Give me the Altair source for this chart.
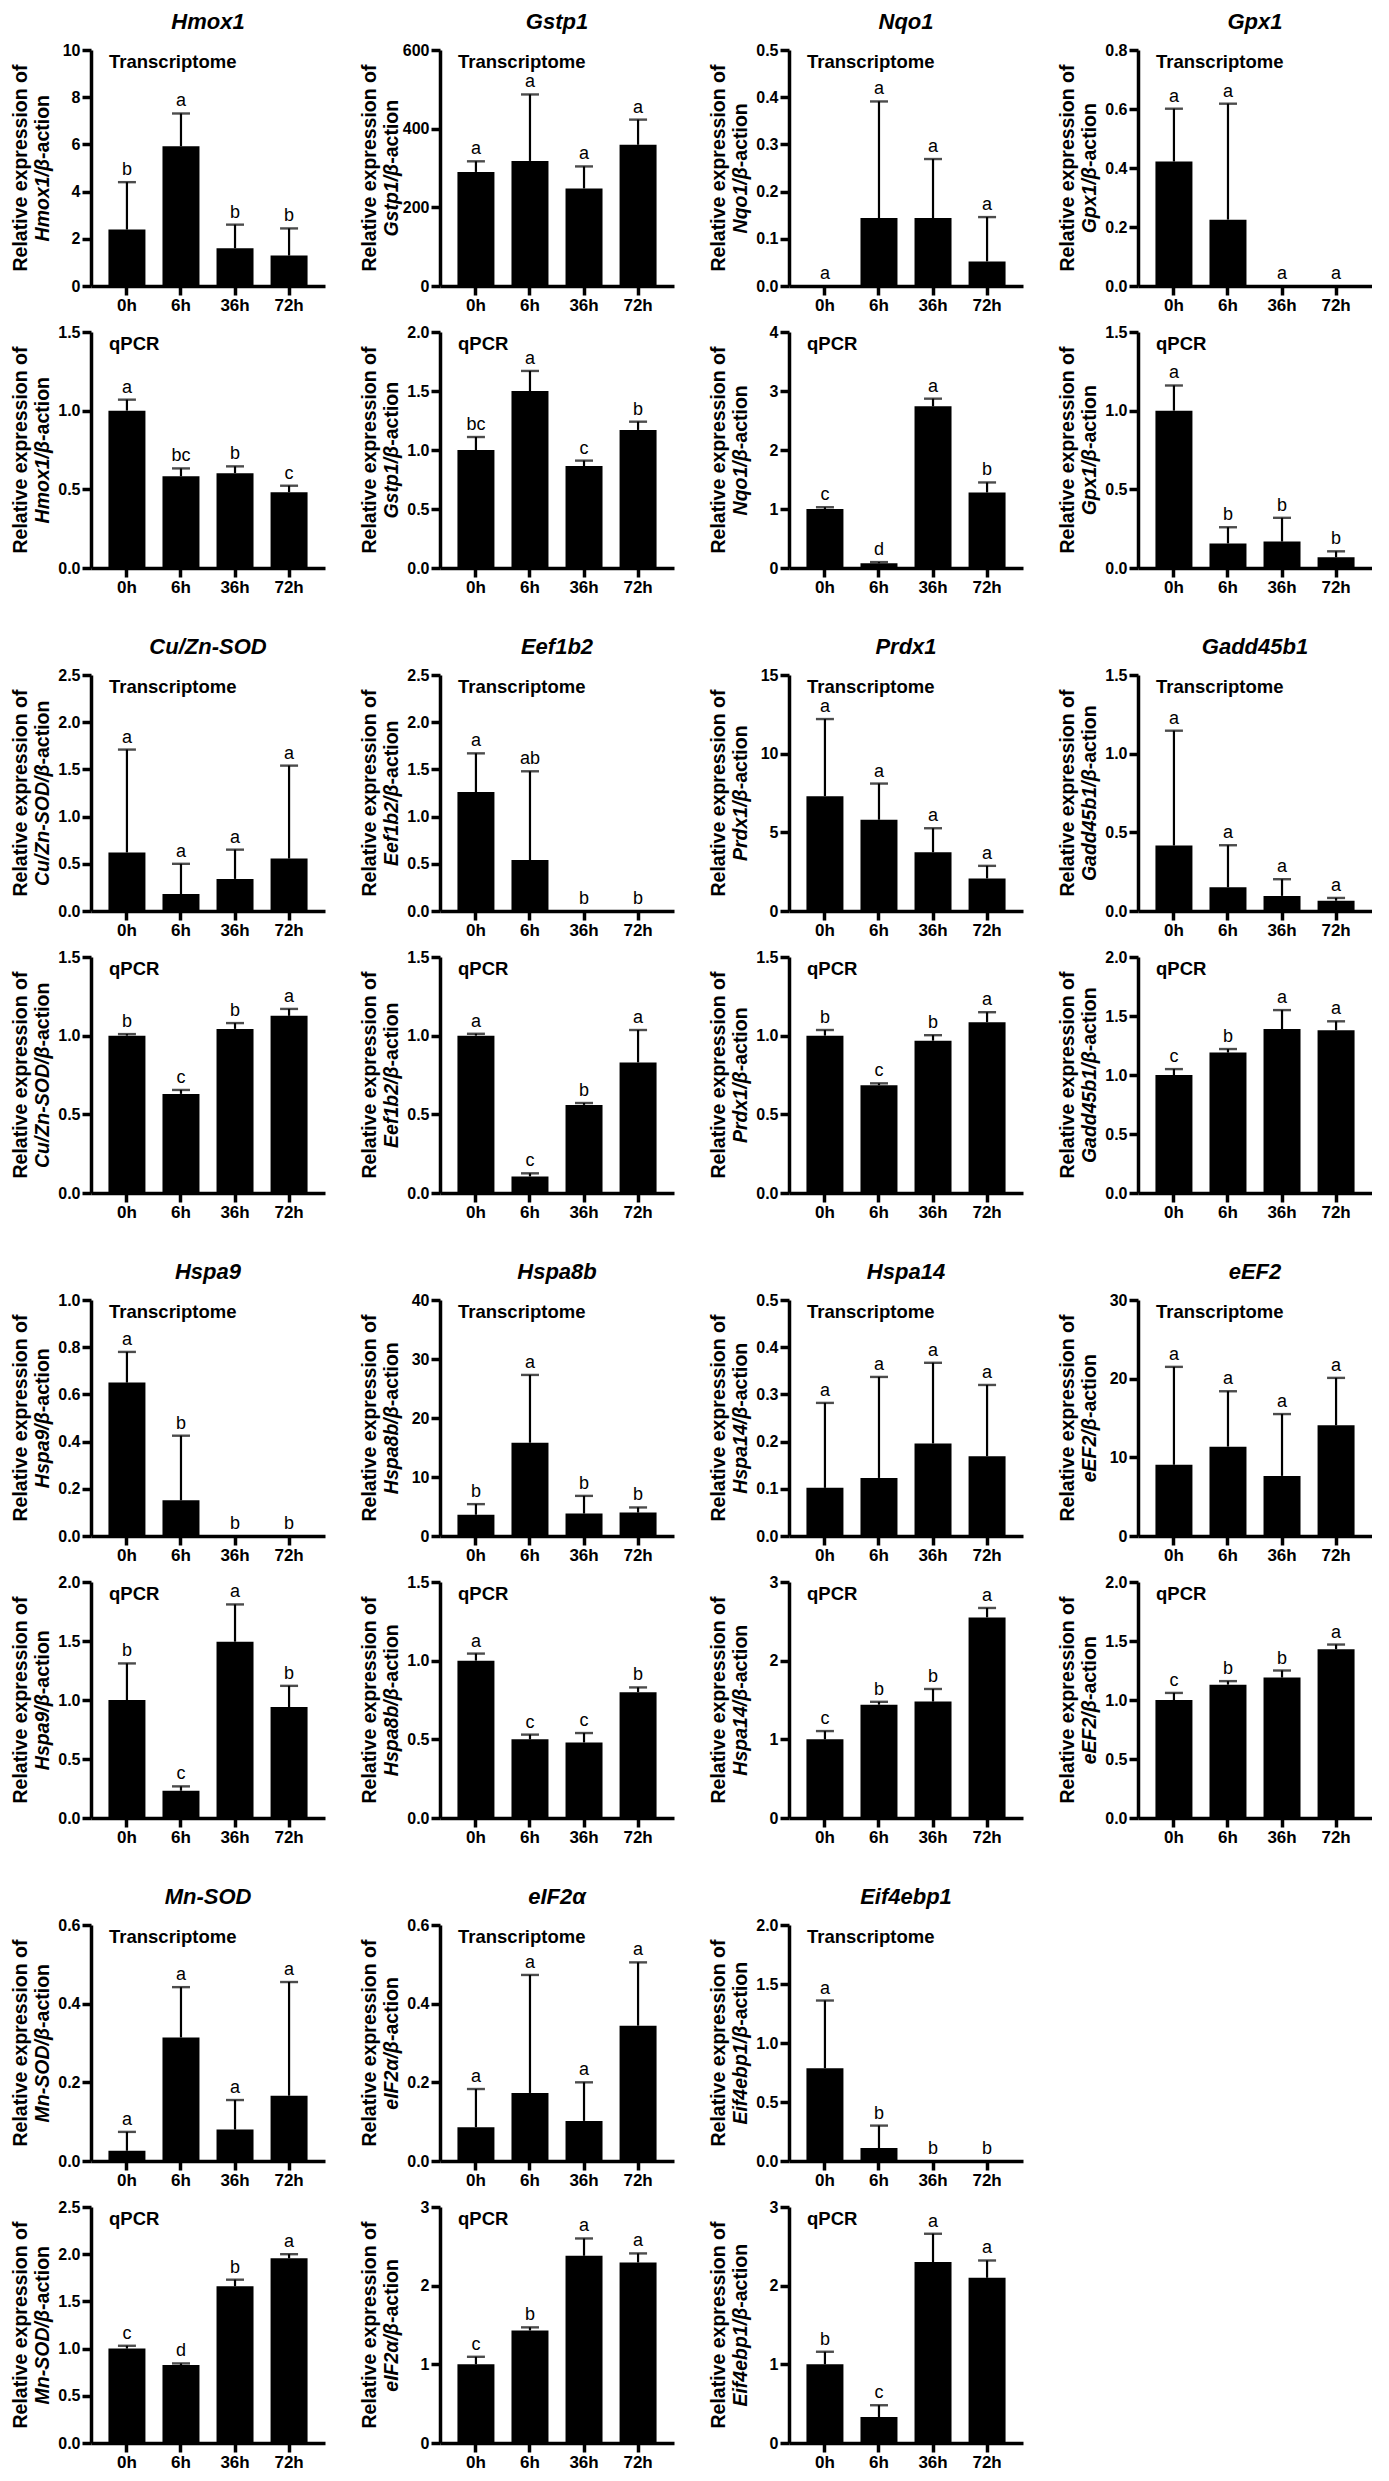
import altair as alt
import pandas as pd
import numpy as np

times = ["0h", "6h", "36h", "72h"]
genes = ["Hmox1", "Gstp1", "Nqo1", "Gpx1",
         "Cu/Zn-SOD", "Eef1b2", "Prdx1", "Gadd45b1",
         "Hspa9", "Hspa8b", "Hspa14", "eEF2",
         "Mn-SOD", "eIF2α", "Eif4ebp1"]

# ---- Transcriptome panels ----
trans_mean = [
    [2.39, 5.92, 1.60, 1.29],
    [290, 318, 248, 359],
    [0.0, 0.144, 0.144, 0.052],
    [0.422, 0.225, 0.0, 0.0],
    [0.62, 0.18, 0.34, 0.555],
    [1.26, 0.54, 0.0, 0.0],
    [7.3, 5.8, 3.73, 2.07],
    [0.416, 0.151, 0.096, 0.065],
    [0.65, 0.151, 0.0, 0.0],
    [3.6, 15.8, 3.8, 3.97],
    [0.102, 0.123, 0.196, 0.169],
    [9.05, 11.36, 7.64, 14.07],
    [0.026, 0.314, 0.08, 0.166],
    [0.086, 0.173, 0.102, 0.344],
    [0.786, 0.11, 0.0, 0.0],
]
trans_err_top = [
    [4.4, 7.31, 2.6, 2.44],
    [317, 487, 304, 423],
    [0.0, 0.391, 0.269, 0.146],
    [0.601, 0.618, 0.0, 0.0],
    [1.71, 0.50, 0.65, 1.54],
    [1.67, 1.48, 0.0, 0.0],
    [12.2, 8.1, 5.26, 2.87],
    [1.146, 0.418, 0.202, 0.083],
    [0.78, 0.425, 0.0, 0.0],
    [5.4, 27.3, 6.8, 4.84],
    [0.282, 0.337, 0.367, 0.32],
    [21.5, 18.4, 15.5, 20.1],
    [0.074, 0.442, 0.155, 0.455],
    [0.183, 0.473, 0.2, 0.505],
    [1.36, 0.30, 0.0, 0.0],
]
trans_sig = [
    ["b", "a", "b", "b"], ["a", "a", "a", "a"], ["a", "a", "a", "a"], ["a", "a", "a", "a"],
    ["a", "a", "a", "a"], ["a", "ab", "b", "b"], ["a", "a", "a", "a"], ["a", "a", "a", "a"],
    ["a", "b", "b", "b"], ["b", "a", "b", "b"], ["a", "a", "a", "a"], ["a", "a", "a", "a"],
    ["a", "a", "a", "a"], ["a", "a", "a", "a"], ["a", "b", "b", "b"],
]
trans_ymax = [10, 600, 0.5, 0.8, 2.5, 2.5, 15, 1.5, 1.0, 40, 0.5, 30, 0.6, 0.6, 2.0]
trans_ystep = [2, 200, 0.1, 0.2, 0.5, 0.5, 5, 0.5, 0.2, 10, 0.1, 10, 0.2, 0.2, 0.5]

# ---- qPCR panels ----
qpcr_mean = [
    [1.0, 0.583, 0.603, 0.482],
    [1.0, 1.50, 0.864, 1.17],
    [1.0, 0.08, 2.74, 1.28],
    [1.0, 0.156, 0.168, 0.068],
    [1.0, 0.63, 1.043, 1.126],
    [1.0, 0.105, 0.56, 0.83],
    [1.0, 0.685, 0.968, 1.086],
    [1.0, 1.19, 1.39, 1.38],
    [1.0, 0.231, 1.494, 0.94],
    [1.0, 0.50, 0.48, 0.80],
    [1.0, 1.44, 1.48, 2.55],
    [1.0, 1.13, 1.19, 1.43],
    [1.0, 0.826, 1.66, 1.956],
    [1.0, 1.43, 2.38, 2.295],
    [1.0, 0.33, 2.30, 2.10],
]
qpcr_err_top = [
    [1.07, 0.633, 0.646, 0.523],
    [1.11, 1.67, 0.91, 1.24],
    [1.03, 0.10, 2.87, 1.45],
    [1.16, 0.259, 0.319, 0.106],
    [1.01, 0.655, 1.08, 1.17],
    [1.012, 0.125, 0.572, 1.036],
    [1.036, 0.697, 1.003, 1.149],
    [1.05, 1.22, 1.55, 1.455],
    [1.31, 0.268, 1.81, 1.12],
    [1.045, 0.53, 0.54, 0.83],
    [1.105, 1.477, 1.64, 2.67],
    [1.06, 1.16, 1.25, 1.47],
    [1.03, 0.843, 1.73, 2.0],
    [1.096, 1.47, 2.6, 2.41],
    [1.16, 0.48, 2.66, 2.32],
]
qpcr_sig = [
    ["a", "bc", "b", "c"], ["bc", "a", "c", "b"], ["c", "d", "a", "b"], ["a", "b", "b", "b"],
    ["b", "c", "b", "a"], ["a", "c", "b", "a"], ["b", "c", "b", "a"], ["c", "b", "a", "a"],
    ["b", "c", "a", "b"], ["a", "c", "c", "b"], ["c", "b", "b", "a"], ["c", "b", "b", "a"],
    ["c", "d", "b", "a"], ["c", "b", "a", "a"], ["b", "c", "a", "a"],
]
qpcr_ymax = [1.5, 2.0, 4, 1.5, 1.5, 1.5, 1.5, 2.0, 2.0, 1.5, 3, 2.0, 2.5, 3, 3]
qpcr_ystep = [0.5, 0.5, 1, 0.5, 0.5, 0.5, 0.5, 0.5, 0.5, 0.5, 1, 0.5, 0.5, 1, 1]

FONT = "Liberation Sans"
W, H = 234, 236
YT_FS = 19.5

# approximate Arial-bold glyph widths (em) for centring the split y-title line
CW = {' ': .278, '-': .333, '/': .278, 'a': .556, 'b': .611, 'c': .556, 'd': .611,
      'e': .556, 'f': .333, 'g': .611, 'h': .611, 'i': .278, 'l': .278, 'm': .889,
      'n': .611, 'o': .611, 'p': .611, 'r': .389, 's': .556, 't': .333, 'x': .556,
      'C': .722, 'D': .722, 'E': .667, 'F': .611, 'G': .778, 'H': .722, 'I': .278,
      'M': .833, 'N': .722, 'O': .778, 'P': .667, 'S': .667, 'Z': .611,
      'β': .6, 'α': .6}
for d in "0123456789":
    CW[d] = .556


def tw(s, fs):
    return sum(CW.get(c, .6) for c in s) * fs


def panel(i, kind):
    if kind == "t":
        mean, top, sig = trans_mean[i], trans_err_top[i], trans_sig[i]
        ymax, step, label = trans_ymax[i], trans_ystep[i], "Transcriptome"
    else:
        mean, top, sig = qpcr_mean[i], qpcr_err_top[i], qpcr_sig[i]
        ymax, step, label = qpcr_ymax[i], qpcr_ystep[i], "qPCR"
    df = pd.DataFrame({"time": times, "mean": mean, "top": top, "sig": sig})
    ticks = [float(v) for v in np.round(np.arange(0, ymax + step / 2, step), 6)]
    fmt = "d" if float(step).is_integer() else ".1f"

    xaxis = alt.Axis(title=None, labelAngle=0, labelFont=FONT, labelFontWeight="bold",
                     labelFontSize=17, labelColor="black", domainColor="black",
                     domainWidth=3.5, tickColor="black", tickWidth=3.5, tickSize=9,
                     labelPadding=2, grid=False)
    yaxis = alt.Axis(title=None, values=ticks, format=fmt, labelFont=FONT,
                     labelFontWeight="bold", labelFontSize=16, labelColor="black",
                     domainColor="black", domainWidth=3.5, tickColor="black",
                     tickWidth=3.5, tickSize=9, labelPadding=2, grid=False)
    xs = alt.Scale(paddingInner=0.31, paddingOuter=0.32)
    ys = alt.Scale(domain=[0, ymax], nice=False, zero=True)
    X = alt.X("time:N", sort=times, scale=xs, axis=xaxis)

    base = alt.Chart(df)
    bars = base.mark_bar(color="black", size=37).encode(
        x=X, y=alt.Y("mean:Q", scale=ys, axis=yaxis))
    err = base.transform_filter("datum.top > datum.mean")
    rule = err.mark_rule(color="black", strokeWidth=2.2).encode(
        x=X, y=alt.Y("mean:Q", scale=ys, axis=yaxis), y2="top:Q")
    cap = err.mark_tick(color="black", thickness=2.4, size=18).encode(
        x=X, y=alt.Y("top:Q", scale=ys, axis=yaxis))
    letters = base.mark_text(font=FONT, fontSize=18, baseline="alphabetic", dy=-7,
                             color="black").encode(
        x=X, y=alt.Y("top:Q", scale=ys, axis=yaxis), text="sig:N")

    lab = alt.Chart(pd.DataFrame({"t": [label]})).mark_text(
        font=FONT, fontSize=18.5, fontWeight="bold", align="left", baseline="middle",
        color="black").encode(x=alt.value(18), y=alt.value(12), text="t:N")

    # y titles: "Relative expression of" / "<gene>/β-action" (gene part italic)
    yt1 = alt.Chart(pd.DataFrame({"t": ["Relative expression of"]})).mark_text(
        font=FONT, fontSize=YT_FS, fontWeight="bold", angle=270, align="center",
        baseline="middle", color="black").encode(
        x=alt.value(-70), y=alt.value(H / 2), text="t:N")
    ital = genes[i] + "/β"
    reg = "-action"
    wi, wr = tw(ital, YT_FS), tw(reg, YT_FS)
    yj = H / 2 + (wi + wr) / 2 - wi
    yt2a = alt.Chart(pd.DataFrame({"t": [ital]})).mark_text(
        font=FONT, fontSize=YT_FS, fontWeight="bold", fontStyle="italic", angle=270,
        align="right", baseline="middle", color="black").encode(
        x=alt.value(-48), y=alt.value(yj), text="t:N")
    yt2b = alt.Chart(pd.DataFrame({"t": [reg]})).mark_text(
        font=FONT, fontSize=YT_FS, fontWeight="bold", angle=270,
        align="left", baseline="middle", color="black").encode(
        x=alt.value(-48), y=alt.value(yj), text="t:N")

    layer = alt.layer(bars, rule, cap, letters, lab, yt1, yt2a, yt2b).properties(
        width=W, height=H)
    if kind == "t":
        layer = layer.properties(title=alt.TitleParams(
            text=genes[i], font=FONT, fontSize=22, fontWeight="bold",
            fontStyle="italic", anchor="middle", frame="group", offset=8,
            color="black"))
    return layer


def column(i):
    return alt.vconcat(panel(i, "t"), panel(i, "q"), spacing=11)


rows = []
for r in range(4):
    idx = [k for k in range(r * 4, r * 4 + 4) if k < len(genes)]
    rows.append(alt.hconcat(*[column(k) for k in idx], spacing=35))

chart = alt.vconcat(*rows, spacing=41).properties(
    padding={"left": 3, "top": 3, "right": 0, "bottom": 0}
).configure_view(stroke=None).configure_axis(grid=False)

chart.save("out.html", embed_options={"renderer": "svg", "actions": False})
